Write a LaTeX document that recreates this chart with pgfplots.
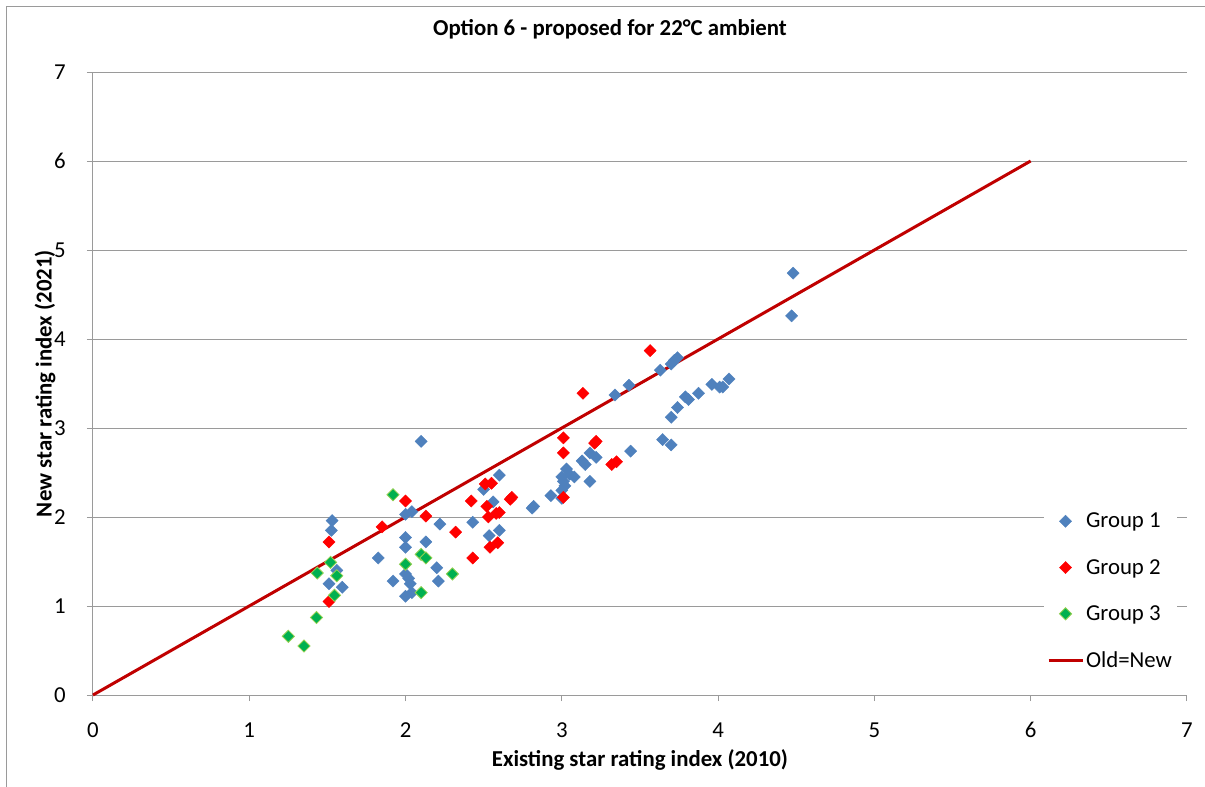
\documentclass[border=0pt]{standalone}
\usepackage{fontspec}
\setmainfont{Carlito}
\usepackage{pgfplots}
\pgfplotsset{compat=1.18}
\definecolor{gone}{HTML}{4F81BD}
\definecolor{gtwo}{HTML}{FF0000}
\definecolor{gthree}{HTML}{00B050}
\definecolor{gthreeE}{HTML}{92D050}
\definecolor{lineC}{HTML}{C00000}
\definecolor{gridC}{HTML}{9A9A9A}
\newcommand{\fs}{\fontsize{22.8bp}{27bp}\selectfont}
\pgfplotsset{
  markleg/.style={legend image code/.code={\draw[mark repeat=2, mark phase=2, ##1] plot coordinates {(0bp,0bp) (17bp,0bp) (34bp,0bp)};}},
  lineleg/.style={legend image code/.code={\draw[##1] (0bp,0bp) -- (34bp,0bp);}},
}
\begin{document}
\begin{tikzpicture}
\useasboundingbox (-93bp,-92bp) rectangle (1112bp,695bp);
\draw[color=gridC, line width=1bp] (-86bp,-92bp) -- (-86bp,688bp) -- (1112bp,688bp);
\begin{axis}[
  at={(0bp,0bp)}, anchor=south west,
  width=1094bp, height=623bp, scale only axis,
  xmin=0, xmax=7, ymin=0, ymax=7,
  xtick={0,1,2,3,4,5,6,7}, ytick={0,1,2,3,4,5,6,7},
  axis lines=left,
  axis line style={-, gridC, line width=1bp},
  ymajorgrids,
  major grid style={gridC, line width=1bp},
  tick align=outside, major tick length=6bp,
  tick style={gridC, line width=1bp},
  /pgf/number format/assume math mode=true,
  ticklabel style={font=\fs, text=black},
  xticklabel style={anchor=center, yshift=-29bp},
  yticklabel style={anchor=center, xshift=-27bp},
  title={\bfseries Option 6 - proposed for 22°C ambient},
  title style={font=\fs, at={(axis description cs:0.4726,1)}, anchor=center, yshift=37bp},
  xlabel={\bfseries Existing star rating index (2010)},
  xlabel style={font=\fs, at={(axis description cs:0.5,0)}, anchor=center, yshift=-65bp},
  ylabel={\bfseries New star rating index (2021)},
  ylabel style={font=\fs, at={(axis description cs:0,0.5)}, anchor=center, yshift=48bp},
  legend style={at={(rel axis cs:0.8692,0.2986)}, anchor=north west, draw=none, fill=white,
    font=\fs, row sep=26bp, legend cell align=left},
  clip=false,
]
\addplot[only marks, mark=square*, mark size=4.3bp, color=gone,
  every mark/.append style={rotate=45, fill=gone, draw=gone}, markleg]
coordinates {
(1.53,1.96) (1.525,1.85) (1.56,1.40) (1.51,1.25) (1.595,1.21) (1.825,1.54) (1.92,1.28)
(2.00,2.03) (2.04,2.06) (2.00,1.77) (2.00,1.66) (2.00,1.36) (2.02,1.31) (2.03,1.25)
(2.04,1.15) (2.00,1.11) (2.10,2.85) (2.13,1.72) (2.22,1.92) (2.20,1.43) (2.21,1.28)
(2.43,1.94) (2.50,2.31) (2.60,2.47) (2.56,2.17) (2.535,1.79) (2.60,1.85)
(2.82,2.12) (2.81,2.10) (2.93,2.24) (3.03,2.54) (3.00,2.45) (3.01,2.40) (3.02,2.35)
(3.00,2.30) (3.05,2.48) (3.08,2.45) (3.00,2.21) (3.13,2.63) (3.15,2.59) (3.18,2.72)
(3.22,2.67) (3.18,2.40) (3.44,2.74) (3.34,3.37) (3.43,3.48) (3.63,3.65) (3.70,3.72)
(3.72,3.76) (3.74,3.79) (3.645,2.87) (3.70,2.81) (3.70,3.12) (3.74,3.23) (3.79,3.35)
(3.81,3.32) (3.875,3.39) (3.96,3.49) (4.01,3.46) (4.03,3.46) (4.07,3.55) (4.47,4.26)
(4.48,4.74)
};
\addlegendentry{Group 1}
\addplot[only marks, mark=square*, mark size=4.3bp, color=gtwo,
  every mark/.append style={rotate=45, fill=gtwo, draw=gtwo}, markleg]
coordinates {
(1.51,1.72) (1.51,1.05) (1.85,1.89) (2.00,2.18) (2.13,2.01) (2.32,1.83) (2.42,2.18)
(2.43,1.54) (2.51,2.37) (2.55,2.38) (2.52,2.12) (2.53,2.00) (2.58,2.04) (2.60,2.05)
(2.59,1.71) (2.54,1.66) (2.67,2.20) (2.68,2.22) (3.01,2.22) (3.01,2.89) (3.01,2.72)
(3.21,2.83) (3.22,2.85) (3.32,2.59) (3.35,2.62) (3.135,3.39) (3.565,3.87)
};
\addlegendentry{Group 2}
\addplot[only marks, mark=square*, mark size=4.3bp, color=gthree,
  every mark/.append style={rotate=45, fill=gthree, draw=gthreeE, line width=0.8bp}, markleg]
coordinates {
(1.25,0.66) (1.35,0.55) (1.43,0.87) (1.435,1.37) (1.52,1.49) (1.56,1.34) (1.545,1.12)
(1.92,2.25) (2.00,1.47) (2.10,1.58) (2.13,1.54) (2.10,1.15) (2.30,1.36)
};
\addlegendentry{Group 3}
\addplot[lineC, line width=3bp, no marks, lineleg]
coordinates {(0,0) (6,6)};
\addlegendentry{Old=New}
\end{axis}
\end{tikzpicture}
\end{document}
